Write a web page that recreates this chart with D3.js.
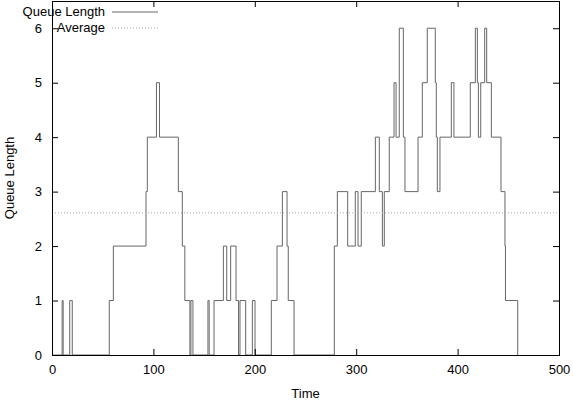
<!DOCTYPE html>
<html><head><meta charset="utf-8">
<script src="https://cdn.jsdelivr.net/npm/d3@7"></script>
<style>body{margin:0;background:#fff}text{font-family:"Liberation Sans",Arial,sans-serif;font-size:13px;fill:#000}</style>
</head><body>
<script>
// step data: time at which the queue changes, and new length
var times = [0,10,11,17.5,20,56.5,60.5,92.7,94,103,106,124.6,128.5,131,136,137,139,153.8,155,159.8,169,172.3,176.2,181.5,184,185.4,191,197.6,200.2,216.3,221.9,227.2,231.8,233,238.7,278.4,281.4,291.6,299.1,301.8,305,318.9,322.8,325.8,327.7,332.6,337.3,339.3,342.5,346.5,348.1,361,365.2,370.1,378,379,380,382.6,393.8,396.4,412.5,417.5,419.5,420.5,422.8,426.7,428.7,433.3,442.8,446.7,447.2,459.3];
var lengths = [0,1,0,1,0,1,2,3,4,5,4,3,2,1,0,1,0,1,0,1,2,1,2,1,0,1,0,1,0,1,2,3,2,1,0,2,3,2,3,2,3,4,3,2,3,4,5,4,6,4,3,4,5,6,5,4,3,4,5,4,5,6,5,4,5,6,5,4,3,2,1,0];
var average = 2.61;
var xTicks = [0,100,200,300,400,500];
var yTicks = [0,1,2,3,4,5,6];

var W = 573, H = 405;
var m = {top: 1, right: 14, bottom: 50, left: 52};
var svg = d3.select('body').append('svg').attr('width', W).attr('height', H);
var x = d3.scaleLinear().domain([0, 500]).range([m.left, W - m.right]);
var y = d3.scaleLinear().domain([0, 6.5]).range([H - m.bottom, m.top]);

var pts = times.map(function(t, i){ return [t, lengths[i]]; });
var line = d3.line().x(function(d){return x(d[0]);}).y(function(d){return y(d[1]);}).curve(d3.curveStepAfter);
svg.append('path').datum(pts).attr('d', line).attr('fill', 'none').attr('stroke', '#666').attr('stroke-width', 1);

svg.append('line').attr('x1', x(0)).attr('x2', x(500)).attr('y1', y(average)).attr('y2', y(average))
  .attr('stroke', '#aaa').attr('stroke-dasharray', '1,2');

// axes with inward ticks, mirrored
var g = svg.append('g');
g.append('g').attr('transform', 'translate(0,' + y(0) + ')').call(d3.axisBottom(x).tickValues(xTicks).tickSize(-6).tickPadding(10));
g.append('g').attr('transform', 'translate(0,' + y(6.5) + ')').call(d3.axisTop(x).tickValues(xTicks).tickSize(-6).tickFormat(''));
g.append('g').attr('transform', 'translate(' + x(0) + ',0)').call(d3.axisLeft(y).tickValues(yTicks).tickFormat(d3.format('d')).tickSize(-6).tickPadding(10));
g.append('g').attr('transform', 'translate(' + x(500) + ',0)').call(d3.axisRight(y).tickValues(yTicks).tickSize(-6).tickFormat(''));
g.selectAll('.domain').attr('stroke', '#000');
g.selectAll('.tick line').attr('stroke', '#000');
g.selectAll('.tick text').style('font-family', '"Liberation Sans",Arial,sans-serif').style('font-size', '13px');

svg.append('text').attr('x', (x(0) + x(500)) / 2).attr('y', 398).attr('text-anchor', 'middle').text('Time');
svg.append('text').attr('transform', 'translate(14,' + (y(3.25)) + ') rotate(-90)').attr('text-anchor', 'middle').text('Queue Length');

// legend
var lg = svg.append('g');
lg.append('text').attr('x', 105).attr('y', 16).attr('text-anchor', 'end').text('Queue Length');
lg.append('line').attr('x1', 112).attr('x2', 158).attr('y1', 12).attr('y2', 12).attr('stroke', '#666');
lg.append('text').attr('x', 105).attr('y', 32).attr('text-anchor', 'end').text('Average');
lg.append('line').attr('x1', 112).attr('x2', 158).attr('y1', 28).attr('y2', 28).attr('stroke', '#aaa').attr('stroke-dasharray', '1,2');
</script>
</body></html>
